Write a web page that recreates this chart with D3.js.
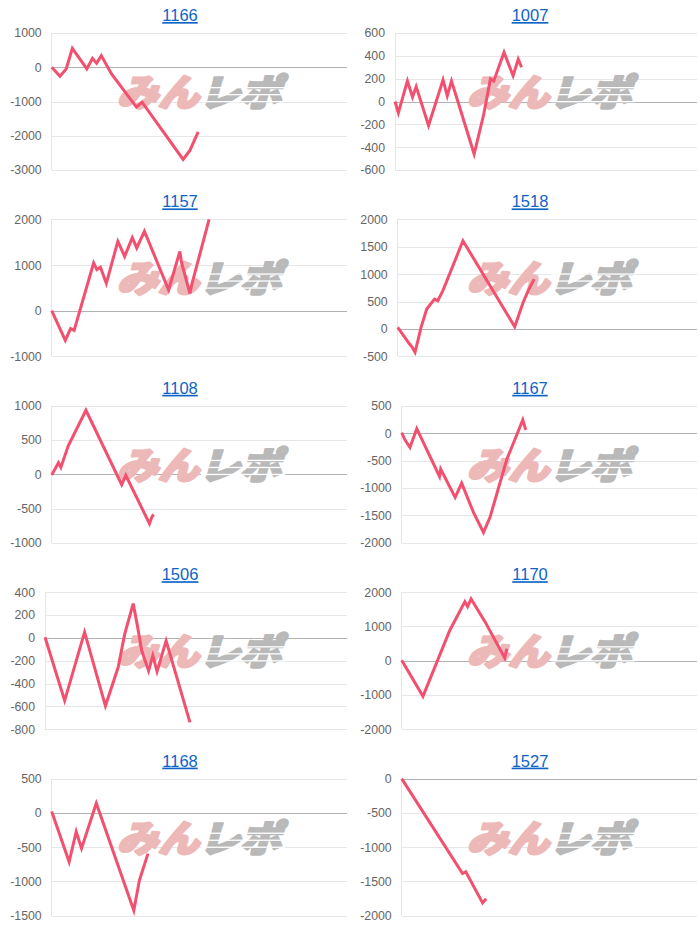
<!DOCTYPE html>
<html><head><meta charset="utf-8">
<script src="https://cdn.jsdelivr.net/npm/d3@7"></script>
<style>html,body{margin:0;padding:0;background:#fff;}svg{display:block;}</style>
</head><body>
<svg id="c" width="700" height="929"></svg>
<script>
// ---- data (x = position along the game axis, 0..100; y = medal difference) ----
const titles = ["1166","1007","1157","1518","1108","1167","1506","1170","1168","1527"];

const s1166 = [[0,0],[2.8,-260],[4.9,-50],[7.0,550],[11.9,-50],[13.8,260],[15.2,120],[16.8,340],[20.2,-190],[28.7,-1165],[30.6,-1020],[44.5,-2690],[46.8,-2430],[49.6,-1890]];
const s1007 = [[0,0],[1.1,-100],[4.1,180],[5.8,40],[7.0,130],[11.1,-210],[15.9,190],[17.3,50],[18.7,180],[26.2,-460],[29.4,-110],[31.6,200],[32.7,180],[36.1,430],[39.1,225],[40.8,370],[41.9,300]];
const s1157 = [[0,0],[4.6,-650],[6.4,-390],[7.6,-430],[14.2,1045],[15.3,900],[16.5,950],[18.5,600],[22.4,1520],[24.7,1190],[27.3,1600],[28.8,1375],[31.4,1740],[39.6,455],[43.4,1300],[44.0,1045],[46.8,380],[47.4,565],[53.3,2000]];
const s1518 = [[0,30],[3.9,-270],[4.8,-330],[5.8,-425],[7.8,30],[9.7,365],[12.3,545],[13.4,515],[15.1,700],[21.8,1610],[39.1,40],[41.9,485],[43.6,700],[45.6,910]];
const s1108 = [[0,-10],[2.3,170],[3.1,100],[5.6,415],[11.6,935],[23.7,-150],[25.1,-15],[33.1,-720],[33.9,-625],[34.5,-585]];
const s1167 = [[0,10],[1.1,-120],[2.8,-260],[5.1,85],[12.8,-790],[13.2,-655],[18.1,-1170],[20.3,-910],[24.3,-1445],[27.7,-1810],[29.9,-1535],[35.6,-475],[39.5,40],[41.0,245],[42.0,60]];
const s1506 = [[0,5],[6.5,-550],[13.1,50],[20.0,-595],[24.2,-260],[26.4,35],[29.2,300],[30.6,105],[32.0,-110],[34.3,-290],[35.7,-155],[37.1,-295],[40.1,-25],[48.0,-740]];
const s1170 = [[0,10],[7.2,-1040],[16.3,890],[21.4,1725],[22.3,1580],[23.5,1805],[28.2,1140],[34.9,80],[35.6,350]];
const s1168 = [[0,20],[5.9,-715],[8.3,-275],[10.1,-520],[15.1,140],[27.8,-1425],[29.7,-985],[32.6,-595]];
const s1527 = [[0,0],[20.6,-1385],[21.7,-1360],[27.4,-1815],[28.6,-1755]];

const t1166 = [-3000,-2000,-1000,0,1000];
const t1007 = [-600,-400,-200,0,200,400,600];
const t1157 = [-1000,0,1000,2000];
const t1518 = [-500,0,500,1000,1500,2000];
const t1108 = [-1000,-500,0,500,1000];
const t1167 = [-2000,-1500,-1000,-500,0,500];
const t1506 = [-800,-600,-400,-200,0,200,400];
const t1170 = [-2000,-1000,0,1000,2000];
const t1168 = [-1500,-1000,-500,0,500];
const t1527 = [-2000,-1500,-1000,-500,0];

const seriesList = [s1166,s1007,s1157,s1518,s1108,s1167,s1506,s1170,s1168,s1527];
const tickList = [t1166,t1007,t1157,t1518,t1108,t1167,t1506,t1170,t1168,t1527];

// ---- drawing ----
const svg = d3.select("#c");
const FONT = "'Liberation Sans', Arial, Helvetica, sans-serif";
const colW = 350, rowTop0 = 33, rowPitch = 186.4, plotH = 137;

const meas = svg.append("text").attr("font-family", FONT).attr("font-size", 12).attr("visibility","hidden");
function tw(s){ meas.text(s); return meas.node().getComputedTextLength(); }

titles.forEach((title, i) => {
  const col = i % 2, row = Math.floor(i / 2);
  const px = col * colW;
  const top = rowTop0 + row * rowPitch;
  const bottom = top + plotH;
  const ticks = tickList[i];
  const labels = ticks.map(String);
  const maxW = d3.max(labels, tw);
  const left = px + 9 + maxW + 12;
  const right = px + 347;

  const x = d3.scaleLinear().domain([0, 100]).range([left, right]);
  const y = d3.scaleLinear().domain([d3.min(ticks), d3.max(ticks)]).range([bottom, top]);

  const g = svg.append("g");

  // title (link style)
  g.append("text").attr("x", px + 180).attr("y", top - 12)
    .attr("text-anchor","middle").attr("font-family", FONT).attr("font-size", 16.5)
    .attr("fill", "#0f63c6").attr("text-decoration","underline").text(title);

  // y axis via d3.axisLeft
  const ax = d3.axisLeft(y).tickValues(ticks).tickFormat(d => String(d))
    .tickSize(-(right - left)).tickPadding(10);
  const axg = g.append("g").attr("transform", `translate(${left},0)`).call(ax);
  axg.select(".domain").remove();
  axg.selectAll(".tick line")
    .attr("stroke", d => d === 0 ? "#b3b3b3" : "#e6e6e6")
    .attr("stroke-width", 1).attr("shape-rendering","crispEdges");
  axg.selectAll(".tick text").attr("font-family", FONT).attr("font-size", 12.3).attr("fill", "#666");
  // left border line
  g.append("line").attr("x1", left).attr("x2", left).attr("y1", top).attr("y2", bottom)
    .attr("stroke", "#e6e6e6").attr("shape-rendering","crispEdges");

  // watermark
  const wx = px + 199, wy = top + 60;
  const wm = g.append("g").attr("transform", `translate(${wx},${wy + 13}) skewX(-16)`);
  const wt = wm.append("text").attr("text-anchor","middle")
    .attr("font-family", "'Noto Sans CJK JP', sans-serif").attr("font-weight", 900)
    .attr("font-size", 37).attr("textLength", 164).attr("lengthAdjust","spacingAndGlyphs")
    .attr("stroke-width", 2.6).attr("stroke-linejoin","round");
  wt.append("tspan").attr("fill", "#edb8b8").attr("stroke", "#edb8b8").text("みん");
  wt.append("tspan").attr("fill", "#b9b9b9").attr("stroke", "#b9b9b9").text("レポ");
  // speed-line cuts across the grey half
  [-6, 1, 8].forEach(dy => {
    g.append("rect").attr("x", wx + 2).attr("y", wy + dy).attr("width", 84).attr("height", 1.3)
      .attr("fill", "#fff");
  });

  // line
  const line = d3.line().x(d => x(d[0])).y(d => y(d[1]));
  g.append("path").datum(seriesList[i]).attr("d", line)
    .attr("fill","none").attr("stroke", "#f2506e").attr("stroke-width", 3)
    .attr("stroke-linejoin","miter");
});
meas.remove();
</script>
</body></html>
